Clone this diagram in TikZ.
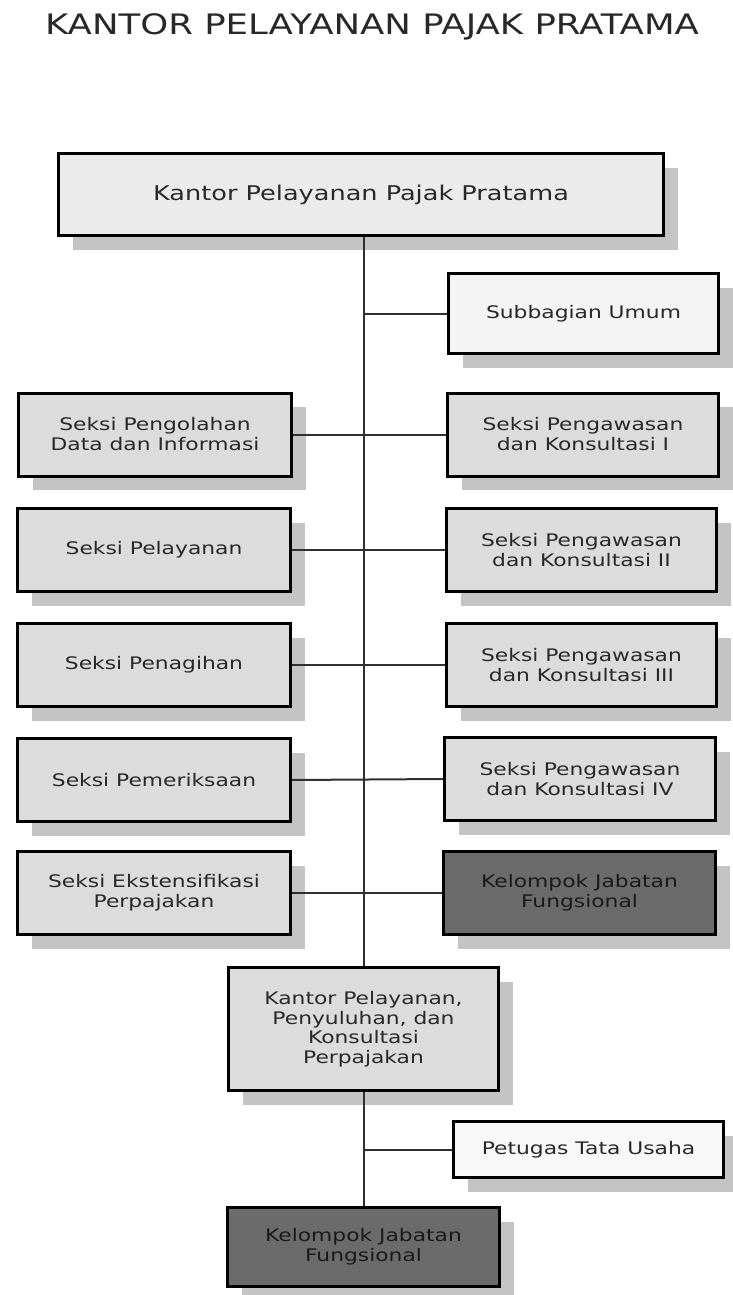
\documentclass[tikz,border=0pt]{standalone}
\usepackage{fontspec}
\setmainfont[FakeStretch=1.26]{DejaVu Sans}
\usetikzlibrary{shadows}
\definecolor{textc}{HTML}{282828}
\definecolor{darktext}{HTML}{1A1A1A}
\definecolor{topc}{HTML}{EBEBEB}
\definecolor{lightc}{HTML}{F4F4F4}
\definecolor{seksic}{HTML}{DCDCDC}
\definecolor{darkc}{HTML}{6B6B6B}
\definecolor{shadowc}{HTML}{C4C4C4}
\definecolor{linec}{HTML}{303030}
\tikzset{
  box/.style={draw=black, line width=3pt, align=center, text=textc, inner sep=0pt,
    font=\fontsize{17.3}{20}\selectfont,
    drop shadow={shadow xshift=14pt, shadow yshift=-14pt, fill=shadowc, opacity=1}},
  seksibox/.style={box, fill=seksic, minimum width=273pt, minimum height=83pt},
  lightbox/.style={box, fill=lightc},
  darkbox/.style={box, fill=darkc, text=darktext},
  conn/.style={draw=linec, line width=2pt}
}
\begin{document}
\begin{tikzpicture}[x=1pt,y=-1pt]
\path[fill=white] (0,0) rectangle (733,1295);
\useasboundingbox (0,0) rectangle (733,1295);

\node[anchor=base, text=textc, font=\fontsize{28.2}{31}\selectfont] (title) at (372,35) {KANTOR PELAYANAN PAJAK PRATAMA};

\node[box, fill=topc, minimum width=605pt, minimum height=82pt, font=\fontsize{20.3}{23}\selectfont] (top) at (361,194.5) {Kantor Pelayanan Pajak Pratama};

\node[lightbox, minimum width=270pt, minimum height=80pt] (sub) at (583.5,313.5) {Subbagian Umum};

\node[seksibox] (L1) at (155,434.5) {Seksi Pengolahan\\Data dan Informasi};
\node[seksibox] (L2) at (154,550) {Seksi Pelayanan};
\node[seksibox] (L3) at (154,665) {Seksi Penagihan};
\node[seksibox] (L4) at (154,780) {Seksi Pemeriksaan};
\node[seksibox] (L5) at (154,893) {Seksi Ekstensifikasi\\Perpajakan};

\node[seksibox, minimum width=271pt] (R1) at (583,434.5) {Seksi Pengawasan\\dan Konsultasi I};
\node[seksibox, minimum width=270pt] (R2) at (581.5,550) {Seksi Pengawasan\\dan Konsultasi II};
\node[seksibox, minimum width=270pt] (R3) at (581.5,665) {Seksi Pengawasan\\dan Konsultasi III};
\node[seksibox, minimum width=271pt] (R4) at (580,779) {Seksi Pengawasan\\dan Konsultasi IV};
\node[darkbox, minimum width=272pt, minimum height=83pt] (R5) at (579.5,893) {Kelompok Jabatan\\Fungsional};

\node[box, fill=seksic, minimum width=270pt, minimum height=123pt, font=\fontsize{17.3}{19.5}\selectfont] (K) at (363.5,1029) {Kantor Pelayanan,\\Penyuluhan, dan\\Konsultasi\\Perpajakan};

\node[lightbox, fill=lightc!60!white, minimum width=270pt, minimum height=56pt] (P) at (588.5,1149.5) {Petugas Tata Usaha};

\node[darkbox, minimum width=272pt, minimum height=79pt] (B) at (363.5,1247) {Kelompok Jabatan\\Fungsional};

% connectors
\coordinate (t0) at (top.south -| K.north);
\coordinate (t1) at (K.north |- sub.west);
\coordinate (t2) at (K.south |- P.west);
\draw[conn] (t0) -- (K.north);
\draw[conn] (K.south) -- (B.north);
\draw[conn] (t1) -- (sub.west);
\draw[conn] (L1.east) -- (R1.west);
\draw[conn] (L2.east) -- (R2.west);
\draw[conn] (L3.east) -- (R3.west);
\draw[conn] (L4.east) -- (R4.west);
\draw[conn] (L5.east) -- (R5.west);
\draw[conn] (t2) -- (P.west);
\end{tikzpicture}
\end{document}
